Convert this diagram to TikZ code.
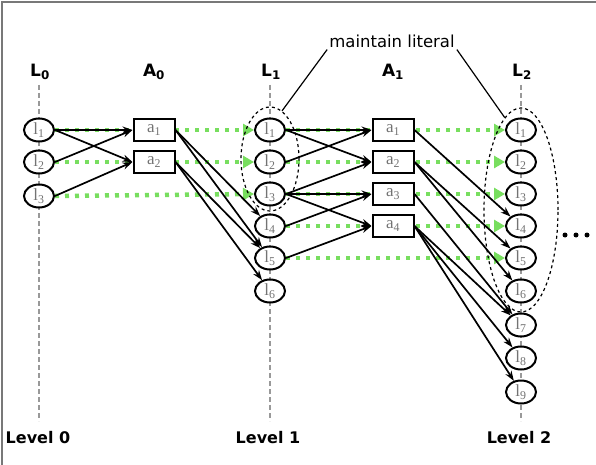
\documentclass[tikz,border=0pt]{standalone}
\usepackage{fontspec}
\setmainfont{DejaVu Sans}
\newfontfamily\nodefont{Liberation Serif}
\usetikzlibrary{arrows.meta,shapes.geometric}
\definecolor{noopgreen}{RGB}{120,222,95}
\definecolor{framegray}{RGB}{120,120,120}
\pgfdeclarelayer{bg}
\pgfsetlayers{bg,main}
\begin{document}
\begin{tikzpicture}[x=1pt,y=-1pt,
  lit/.style={ellipse,draw,line width=2pt,fill=white,minimum width=30pt,minimum height=23pt,inner sep=0pt,text=black!55,font=\nodefont\fontsize{17}{17}\selectfont},
  act/.style={rectangle,draw,line width=2pt,fill=white,minimum width=41pt,minimum height=22pt,inner sep=0pt,text=black!55,font=\nodefont\fontsize{17}{17}\selectfont},
  arr/.style={-{Stealth[length=10pt,width=7pt]},line width=1.7pt},
  noop/.style={draw=noopgreen,line width=4.5pt,dash pattern=on 4pt off 6pt,-{Triangle[length=11pt,width=12pt,fill=noopgreen]}},
  lev/.style={dash pattern=on 5pt off 3pt,line width=2.5pt,black!40},
  head/.style={font=\fontsize{17}{17}\selectfont\bfseries,inner sep=1pt},
  lvl/.style={font=\fontsize{16}{16}\selectfont\bfseries,inner sep=1pt},
  maint/.style={dashed,draw,ellipse,line width=1.2pt,inner sep=0pt},
]
\useasboundingbox (0,0) rectangle (596,465);
\draw[framegray,line width=2.5pt] (2,465) -- (2,2) -- (596,2);

% headers
\node[head] (hL0) at (40,72) {L\textsubscript{0}};
\node[head] (hA0) at (154,72) {A\textsubscript{0}};
\node[head] (hL1) at (271,72) {L\textsubscript{1}};
\node[head] (hA1) at (393,72) {A\textsubscript{1}};
\node[head] (hL2) at (522,72) {L\textsubscript{2}};
\node[font=\fontsize{16.5}{16.5}\selectfont,inner sep=2pt] (ml) at (392,41) {maintain literal};

% level labels
\node[lvl] (lv0) at (38,438) {Level 0};
\node[lvl] (lv1) at (268,438) {Level 1};
\node[lvl] (lv2) at (519,438) {Level 2};

% level dashed lines
\coordinate (t0) at (39,85); \coordinate (b0) at (39,421);
\coordinate (t1) at (270,85); \coordinate (b1) at (270,421);
\coordinate (t2) at (521,85); \coordinate (b2) at (521,421);
\begin{pgfonlayer}{bg}
\draw[lev] (t0) -- (b0);
\draw[lev] (t1) -- (b1);
\draw[lev] (t2) -- (b2);
\end{pgfonlayer}

% literal level 0
\node[lit] (l0a) at (39,130) {l\textsubscript{1}};
\node[lit] (l0b) at (39,162) {l\textsubscript{2}};
\node[lit] (l0c) at (39,196) {l\textsubscript{3}};
% actions 0
\node[act] (a0a) at (154,130) {a\textsubscript{1}};
\node[act] (a0b) at (154,162) {a\textsubscript{2}};
% literal level 1
\node[lit] (l1a) at (270,130) {l\textsubscript{1}};
\node[lit] (l1b) at (270,162) {l\textsubscript{2}};
\node[lit] (l1c) at (270,194) {l\textsubscript{3}};
\node[lit] (l1d) at (270,226) {l\textsubscript{4}};
\node[lit] (l1e) at (270,258) {l\textsubscript{5}};
\node[lit] (l1f) at (270,291) {l\textsubscript{6}};
% actions 1
\node[act] (a1a) at (393,130) {a\textsubscript{1}};
\node[act] (a1b) at (393,162) {a\textsubscript{2}};
\node[act] (a1c) at (393,194) {a\textsubscript{3}};
\node[act] (a1d) at (393,226) {a\textsubscript{4}};
% literal level 2
\node[lit] (l2a) at (521,130) {l\textsubscript{1}};
\node[lit] (l2b) at (521,162) {l\textsubscript{2}};
\node[lit] (l2c) at (521,194) {l\textsubscript{3}};
\node[lit] (l2d) at (521,226) {l\textsubscript{4}};
\node[lit] (l2e) at (521,258) {l\textsubscript{5}};
\node[lit] (l2f) at (521,291) {l\textsubscript{6}};
\node[lit] (l2g) at (521,325) {l\textsubscript{7}};
\node[lit] (l2h) at (521,358) {l\textsubscript{8}};
\node[lit] (l2i) at (521,392) {l\textsubscript{9}};

% no-op (maintain) links
\begin{pgfonlayer}{bg}
\draw[noop] (l0a.east) -- (l1a.west);
\draw[noop] (l0b.east) -- (l1b.west);
\draw[noop] (l0c.east) -- (l1c.west);
\draw[noop] (l1a.east) -- (l2a.west);
\draw[noop] (l1b.east) -- (l2b.west);
\draw[noop] (l1c.east) -- (l2c.west);
\draw[noop] (l1d.east) -- (l2d.west);
\draw[noop] (l1e.east) -- (l2e.west);
\end{pgfonlayer}

% L0 -> A0
\draw[arr] (l0a.east) -- (a0a.west);
\draw[arr] (l0a.east) -- (a0b.west);
\draw[arr] (l0b.east) -- (a0a.west);
\draw[arr] (l0c.east) -- (a0b.west);
% A0 -> L1
\draw[arr] (a0a.east) -- (l1d);
\draw[arr] (a0a.east) -- (l1e);
\draw[arr] (a0b.east) -- (l1e);
\draw[arr] (a0b.east) -- (l1f);
% L1 -> A1
\draw[arr] (l1a.east) -- (a1a.west);
\draw[arr] (l1a.east) -- (a1b.west);
\draw[arr] (l1b.east) -- (a1a.west);
\draw[arr] (l1c.east) -- (a1b.west);
\draw[arr] (l1c.east) -- (a1c.west);
\draw[arr] (l1c.east) -- (a1d.west);
\draw[arr] (l1d.east) -- (a1c.west);
\draw[arr] (l1e.east) -- (a1d.west);
% A1 -> L2
\draw[arr] (a1a.east) -- (l2d);
\draw[arr] (a1b.east) -- (l2e);
\draw[arr] (a1b.east) -- (l2f);
\draw[arr] (a1c.east) -- (l2g);
\draw[arr] (a1d.east) -- (l2g);
\draw[arr] (a1d.east) -- (l2h);
\draw[arr] (a1d.east) -- (l2i);

% maintain literal groups
\node[maint,minimum width=58pt,minimum height=104pt] (e1) at (270,159) {};
\node[maint,minimum width=74pt,minimum height=204pt] (e2) at (521,210) {};
\draw[line width=1.2pt] (ml.south west) -- (e1.76);
\draw[line width=1.2pt] (ml.south east) -- (e2.100);

% continuation dots
\fill (565,235) circle (2.5);
\fill (576,235) circle (2.5);
\fill (587,235) circle (2.5);
\end{tikzpicture}
\end{document}
